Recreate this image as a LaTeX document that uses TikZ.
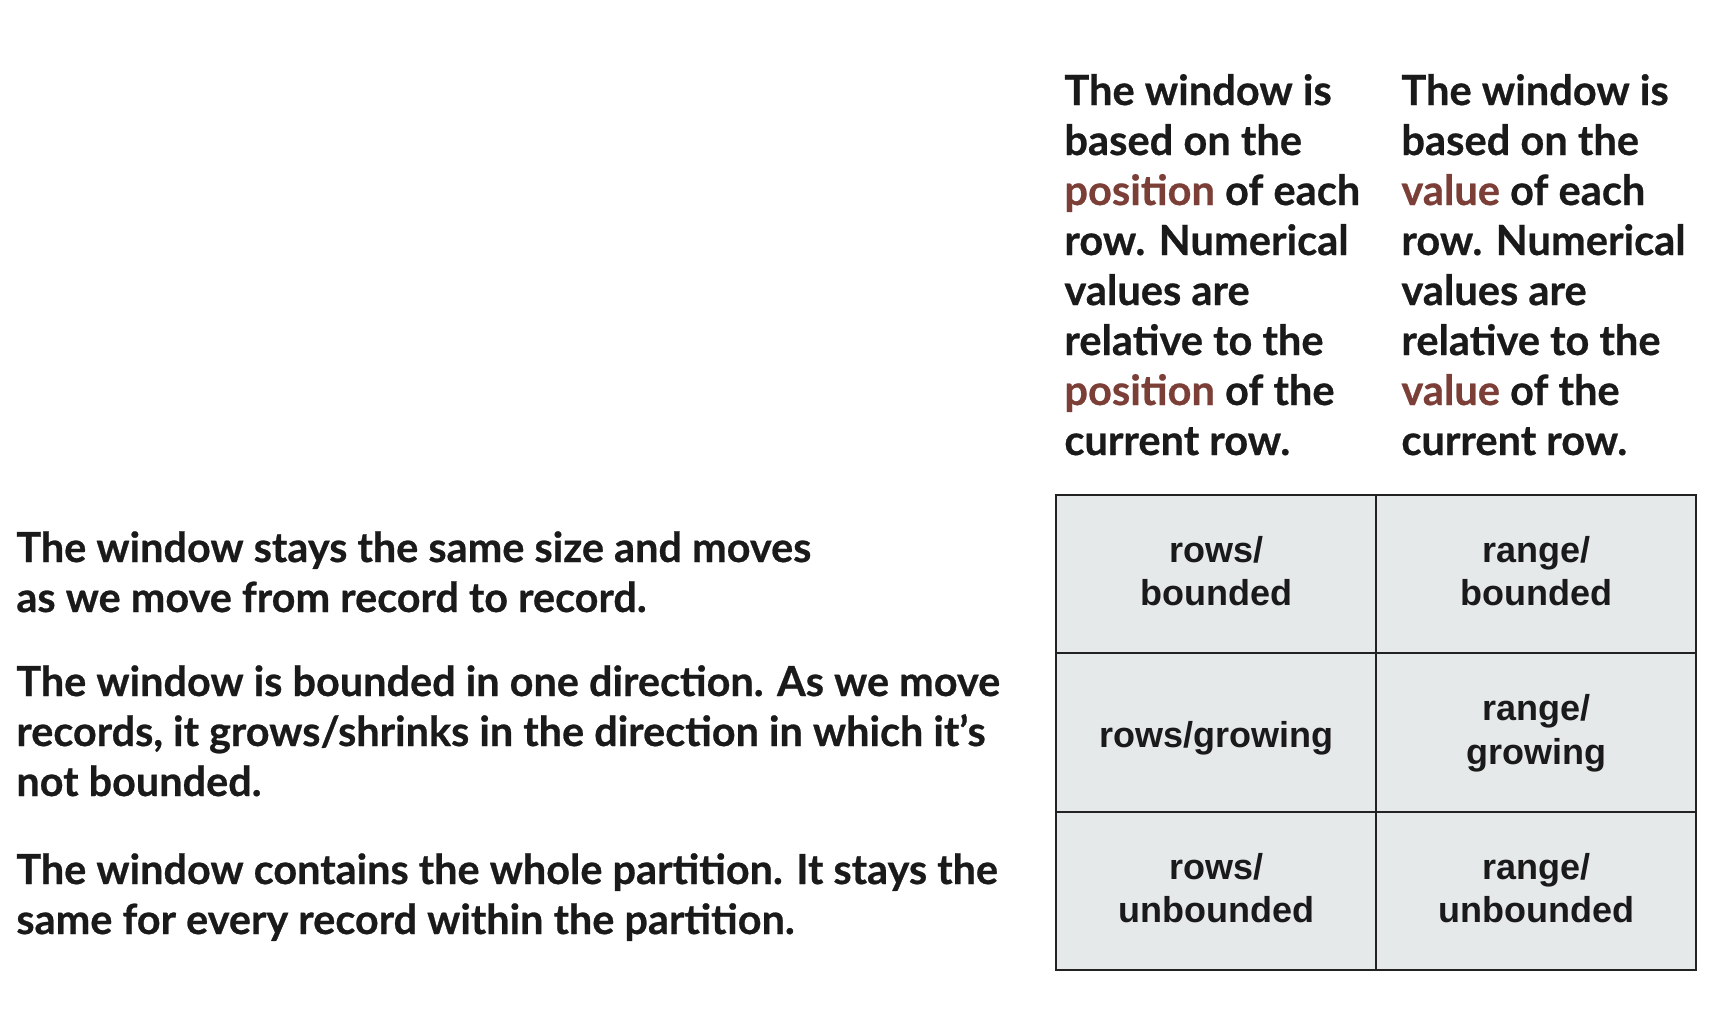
\documentclass[tikz,border=0pt]{standalone}
\usepackage{fontspec}
\setmainfont{Liberation Sans}
\newfontfamily\gill{Lato}[BoldFeatures={FakeBold=0.6}]
\newfontfamily\cellface{Liberation Sans}
\definecolor{ink}{HTML}{1A1A1A}
\definecolor{hl}{HTML}{7B3F38}
\definecolor{cellfill}{HTML}{E6E9EA}
\definecolor{cellline}{HTML}{222222}
\newcommand{\hlw}[1]{\textcolor{hl}{#1}}
\begin{document}
\begin{tikzpicture}[x=0.5pt,y=-0.5pt,
  desc/.style={anchor=base west, inner sep=0pt, align=left, text=ink,
    font=\gill\bfseries\fontsize{20.7}{25}\selectfont},
  colhead/.style={anchor=base west, inner sep=0pt, align=left, text=ink,
    font=\gill\bfseries\fontsize{20.8}{25}\selectfont},
  cell/.style={draw=cellline, fill=cellfill, line width=1pt,
    minimum width=160pt, minimum height=79.2pt, inner sep=0pt,
    align=center, text=ink, font=\cellface\bfseries\fontsize{18}{21.7}\selectfont},
  twoline/.style={text depth=3.2pt}]
\useasboundingbox (0,0) rectangle (1722,1030);
% column headers (anchor = baseline of last line)
\node[colhead] (hpos) at (1064,455) {The window is\\based on the\\\hlw{position} of each\\row. Numerical\\values are\\relative to the\\\hlw{position} of the\\current row.};
\node[colhead] (hval) at (1401,455) {The window is\\based on the\\\hlw{value} of each\\row. Numerical\\values are\\relative to the\\\hlw{value} of the\\current row.};
% row descriptions (anchor = baseline of last line)
\node[desc] (dbound) at (16,612) {The window stays the same size and moves\\as we move from record to record.};
\node[desc] (dgrow) at (16,796) {The window is bounded in one direction. As we move\\records, it grows/shrinks in the direction in which it’s\\not bounded.};
\node[desc] (dunb) at (16,934) {The window contains the whole partition. It stays the\\same for every record within the partition.};
% table
\node[cell,twoline] (rb) at (1216,574) {rows/\\bounded};
\node[cell,twoline] (gb) at (1536,574) {range/\\bounded};
\node[cell] (rg) at (1216,732.5) {\raisebox{-2.75pt}[13pt][3.8pt]{rows/growing}};
\node[cell,twoline] (gg) at (1536,732.5) {range/\\growing};
\node[cell,twoline] (ru) at (1216,891) {rows/\\unbounded};
\node[cell,twoline] (gu) at (1536,891) {range/\\unbounded};
\end{tikzpicture}
\end{document}
